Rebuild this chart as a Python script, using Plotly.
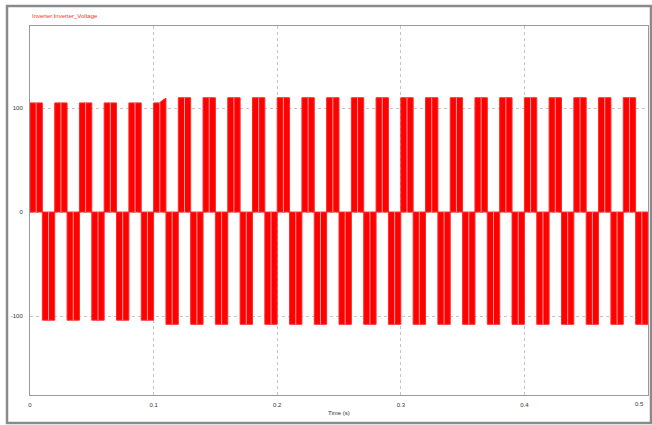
import plotly.graph_objects as go

# Half-cycle boundaries (s) of the inverter output
t_edges = [0.00, 0.01, 0.02, 0.03, 0.04, 0.05, 0.06, 0.07, 0.08, 0.09,
           0.10, 0.11, 0.12, 0.13, 0.14, 0.15, 0.16, 0.17, 0.18, 0.19,
           0.20, 0.21, 0.22, 0.23, 0.24, 0.25, 0.26, 0.27, 0.28, 0.29,
           0.30, 0.31, 0.32, 0.33, 0.34, 0.35, 0.36, 0.37, 0.38, 0.39,
           0.40, 0.41, 0.42, 0.43, 0.44, 0.45, 0.46, 0.47, 0.48, 0.49, 0.50]

# Amplitude of each half-cycle pulse (V)
amplitude = [105, -104, 105, -104, 105, -104, 105, -104, 105, -104,
             105, -108, 110, -108, 110, -108, 110, -108, 110, -108,
             110, -108, 110, -108, 110, -108, 110, -108, 110, -108,
             110, -108, 110, -108, 110, -108, 110, -108, 110, -108,
             110, -108, 110, -108, 110, -108, 110, -108, 110, -108]

# Transient ramp at the end of the pulse starting at 0.10 s
ramp_pulse_index = 10
ramp_time = [0.1047, 0.1060, 0.1075, 0.1090, 0.1100]
ramp_value = [105, 106.5, 107.8, 108.8, 109.5]

# Axis ticks
x_ticks = [0, 0.1, 0.2, 0.3, 0.4]
x_tick_labels = ["0", "0.1", "0.2", "0.3", "0.4"]
x_last_tick_label = "0.5"
y_ticks = [-100, 0, 100]
y_tick_labels = ["-100", "0", "100"]

xs, ys = [], []
sx, sy = [], []
for i, a in enumerate(amplitude):
    t0, t1 = t_edges[i], t_edges[i + 1]
    if i == ramp_pulse_index:
        xs += [t0, t0] + ramp_time + [t1, t0]
        ys += [0, a] + ramp_value + [0, 0]
    else:
        xs += [t0, t0, t1, t1, t0]
        ys += [0, a, a, 0, 0]
    xs.append(None)
    ys.append(None)
    tm = (t0 + t1) / 2
    sx += [tm, tm, None]
    sy += [0, a, None]

fig = go.Figure()
fig.add_trace(go.Scatter(x=xs, y=ys, mode="lines", fill="toself",
                         fillcolor="#ff0000", line=dict(color="#ff2a2a", width=1),
                         hoverinfo="skip", showlegend=False))
fig.add_trace(go.Scatter(x=sx, y=sy, mode="lines",
                         line=dict(color="#ff9a9a", width=1),
                         hoverinfo="skip", showlegend=False))

grid = dict(showgrid=True, gridcolor="#c4c4c4", griddash="dot", gridwidth=1,
            showline=True, linecolor="#9a9a9a", linewidth=1, mirror=True,
            zeroline=False, ticks="", automargin=False,
            tickfont=dict(family="Liberation Sans", size=6, color="#333333"))

fig.update_xaxes(range=[0, 0.5], tickvals=x_ticks, ticktext=x_tick_labels,
                 ticklabelstandoff=4, **grid)
fig.update_yaxes(range=[-176, 179], tickvals=y_ticks, ticktext=y_tick_labels,
                 ticklabelstandoff=5, **grid)

fig.update_layout(
    width=652, height=425,
    margin=dict(l=30, r=4, t=26, b=30, autoexpand=False),
    paper_bgcolor="white", plot_bgcolor="white",
    hovermode=False,
    annotations=[
        dict(text="Inverter.Inverter_Voltage", xref="paper", yref="paper",
             x=0, y=(395 - 16) / 369, xanchor="left", yanchor="middle",
             showarrow=False, font=dict(family="Liberation Sans", size=6, color="#ff3030")),
        dict(text="Time (s)", xref="paper", yref="paper",
             x=(339 - 30) / 618, y=(395 - 413) / 369, xanchor="center", yanchor="middle",
             showarrow=False, font=dict(family="Liberation Sans", size=6, color="#333333")),
        dict(text=x_last_tick_label, xref="paper", yref="paper",
             x=(646 - 30) / 618, y=(395 - 404) / 369, xanchor="right", yanchor="middle",
             showarrow=False, font=dict(family="Liberation Sans", size=6, color="#333333")),
    ],
    shapes=[
        dict(type="rect", xref="paper", yref="paper",
             x0=(7 - 30) / 618, x1=(651 - 30) / 618,
             y0=(395 - 423) / 369, y1=(395 - 6) / 369,
             line=dict(color="#8a8a8a", width=2.5), fillcolor="rgba(0,0,0,0)", layer="below"),
    ],
)

fig.write_html("out.html", config={"displayModeBar": False},
               post_script="document.body.style.margin='0';document.body.style.overflow='hidden';")
